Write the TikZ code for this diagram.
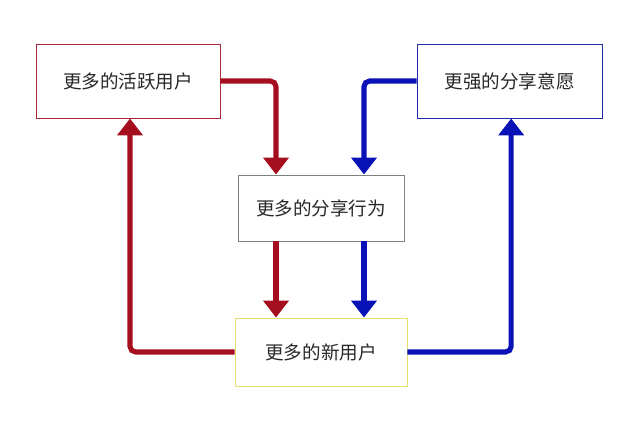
\documentclass[tikz,border=0pt]{standalone}
\usepackage{fontspec}
\newfontfamily\cjk{Noto Sans CJK SC}
\usepackage{xcolor}
\usepackage{tikz}
\usetikzlibrary{arrows.meta,calc,positioning}
\definecolor{loopred}{RGB}{165,14,30}
\definecolor{loopblue}{RGB}{8,18,182}
\definecolor{boxred}{RGB}{170,40,55}
\definecolor{boxblue}{RGB}{30,45,165}
\definecolor{boxyel}{RGB}{232,222,110}
\definecolor{txt}{RGB}{40,40,40}
\tikzset{box/.style={draw,line width=0.7pt,fill=white,align=center,text=txt,
                     font=\cjk\fontsize{13.2}{15}\selectfont,inner sep=0pt},
         redvec/.style={-{Triangle[length=0.42cm,width=0.62cm]},loopred,
                        line width=3.6pt,rounded corners=4pt},
         bluevec/.style={-{Triangle[length=0.42cm,width=0.62cm]},loopblue,
                        line width=3.6pt,rounded corners=4pt}}
\begin{document}
\begin{tikzpicture}
\useasboundingbox (0,0) rectangle (16,10.65);
% boxes
\node[box,draw=boxred,minimum width=4.6cm,minimum height=1.85cm]
   (active) at (3.2,8.625) {更多的活跃用户};
\node[box,draw=boxblue,minimum width=4.62cm,minimum height=1.85cm]
   (will) at (12.74,8.625) {更强的分享意愿};
\node[box,draw=gray,minimum width=4.15cm,minimum height=1.65cm]
   (share) at (8.025,5.45) {更多的分享行为};
\node[box,draw=boxyel,minimum width=4.3cm,minimum height=1.7cm]
   (newuser) at (8.025,1.85) {更多的新用户};
% red loop
\draw[redvec] (active.east) -| ([xshift=-1.125cm]share.north);
\draw[redvec] ([xshift=-1.125cm]share.south) -- ([xshift=-1.125cm]newuser.north);
\draw[redvec] (newuser.west) -| ([xshift=0.05cm]active.south);
% blue loop
\draw[bluevec] (will.west) -| ([xshift=1.075cm]share.north);
\draw[bluevec] ([xshift=1.075cm]share.south) -- ([xshift=1.075cm]newuser.north);
\draw[bluevec] (newuser.east) -| ([xshift=0.04cm]will.south);
\end{tikzpicture}
\end{document}
